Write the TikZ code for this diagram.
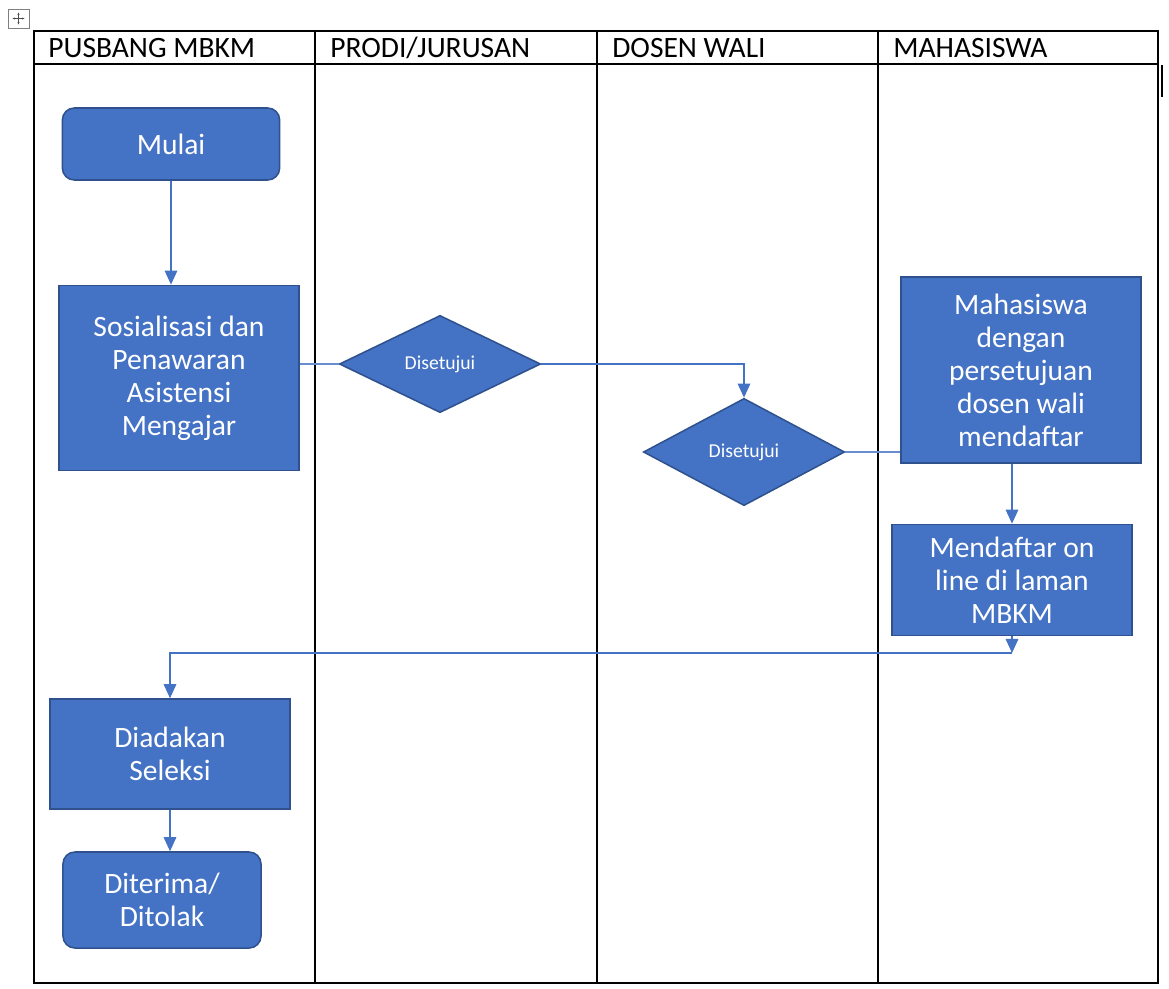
\documentclass[tikz,border=0pt]{standalone}
\usepackage{fontspec}
\setmainfont{Carlito}
\usepackage{tikz}
\usetikzlibrary{shapes.geometric,arrows.meta,positioning}
\definecolor{mbkmblue}{HTML}{4472C4}
\definecolor{mbkmedge}{HTML}{2F528F}
\definecolor{mbkmline}{HTML}{4472C4}
\definecolor{mbkmgray}{HTML}{7F7F7F}

\begin{document}
\begin{tikzpicture}[
  x=0.025cm,y=-0.025cm,
  lane/.style={anchor=west,inner sep=0pt,font=\fontsize{21}{24}\selectfont},
  proc/.style={draw=mbkmedge,fill=mbkmblue,line width=1.1pt,text=white,align=center,inner sep=2pt,font=\fontsize{21}{23.5}\selectfont},
  term/.style={proc,rounded corners=8.5pt},
  decide/.style={diamond,draw=mbkmedge,fill=mbkmblue,line width=1.1pt,text=white,inner sep=0pt,font=\fontsize{14}{16}\selectfont},
  flow/.style={-{Triangle[length=10pt,width=9pt]},line width=0.8pt,draw=mbkmline},
  link/.style={line width=0.8pt,draw=mbkmline!80},
  grid/.style={line width=1pt,draw=black}
]
  \useasboundingbox (0,0) rectangle (1169,988);

  % move handle and cursor
  \draw[mbkmgray,line width=0.6pt,fill=white] (8,9) rectangle (29,28);
  \draw[black!70,line width=0.5pt,{Latex[length=2pt]}-{Latex[length=2pt]}] (12,18.5) -- (25,18.5);
  \draw[black!70,line width=0.5pt,{Latex[length=2pt]}-{Latex[length=2pt]}] (18.5,12) -- (18.5,25);
  \draw[line width=1pt] (1162,65) -- (1162,97);

  % swimlane table
  \draw[grid] (34,31) rectangle (1158,983);
  \draw[grid] (34,64) -- (1158,64);
  \foreach \x in {315,597,878}
    \draw[grid] (\x,31) -- (\x,983);
  \node[lane] (hpusbang) at (48,48) {PUSBANG MBKM};
  \node[lane] (hprodi) at (330,48) {PRODI/JURUSAN};
  \node[lane] (hdosen) at (612,48) {DOSEN WALI};
  \node[lane] (hmhs) at (893,48) {MAHASISWA};

  % steps
  \node[term,minimum width=5.43cm,minimum height=1.8cm] (mulai) at (171,144) {Mulai};
  \node[proc,minimum width=6cm,minimum height=4.63cm] (sosial) at (179,378) {Sosialisasi dan\\Penawaran\\Asistensi\\Mengajar};
  \node[decide,minimum width=5.03cm,minimum height=2.43cm] (setuju1) at (440,364) {Disetujui};
  \node[decide,minimum width=5.03cm,minimum height=2.68cm] (setuju2) at (744,452) {Disetujui};
  \node[proc,minimum width=6cm,minimum height=4.65cm] (mhs) at (1021,370) {Mahasiswa\\dengan\\persetujuan\\dosen wali\\mendaftar};
  \node[proc,minimum width=6cm,minimum height=2.78cm] (daftar) at (1012,580) {Mendaftar on\\line di laman\\MBKM};
  \node[proc,minimum width=6cm,minimum height=2.75cm] (seleksi) at (170,754) {Diadakan\\Seleksi};
  \node[term,minimum width=4.95cm,minimum height=2.4cm] (hasil) at (162,900) {Diterima/\\Ditolak};
  \coordinate (belok) at (1012,653);

  % connectors
  \draw[flow] (mulai.south) -- (mulai.south |- sosial.north);
  \draw[link] (sosial.east |- setuju1.west) -- (setuju1.west);
  \draw[flow] (setuju1.east) -| (setuju2.north);
  \draw[link] (setuju2.east) -- (mhs.west |- setuju2.east);
  \draw[flow] (mhs.south -| daftar.north) -- (daftar.north);
  \draw[flow] (daftar.south) -- (belok);
  \draw[flow] (belok) -| (seleksi.north);
  \draw[flow] (seleksi.south) -- (seleksi.south |- hasil.north);
\end{tikzpicture}
\end{document}
